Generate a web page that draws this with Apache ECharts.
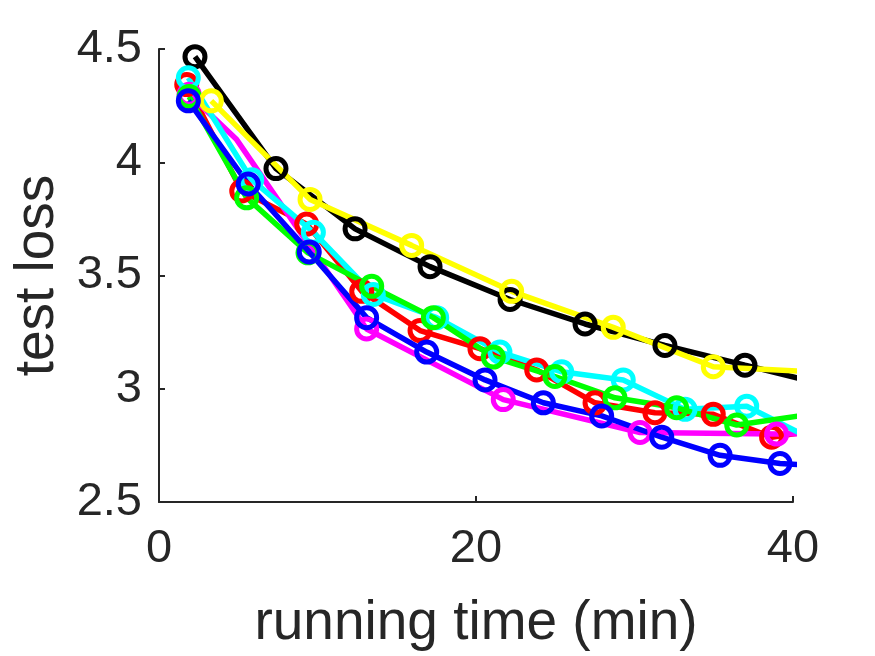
<!DOCTYPE html>
<html>
<head>
<meta charset="utf-8">
<script src="https://cdn.jsdelivr.net/npm/echarts@6/dist/echarts.min.js"></script>
<style>
  html, body { margin: 0; padding: 0; background: #fff; }
  #chart { width: 875px; height: 656px; }
</style>
</head>
<body>
<div id="chart"></div>
<script>
// [running time (min), test loss]; last point of each run lies past 40 and gets clipped
const blackRun   = [[2.27,4.466],[7.38,3.972],[12.37,3.706],[17.1,3.539],[22.15,3.394],[26.88,3.286],[31.92,3.191],[36.97,3.104],[42.0,3.018]];
const redRun     = [[1.75,4.343],[5.22,3.873],[9.32,3.727],[12.79,3.430],[16.47,3.257],[20.25,3.177],[23.83,3.083],[27.51,2.938],[31.29,2.894],[34.97,2.887],[38.65,2.786],[42.4,2.827]];
const magentaRun = [[1.9,4.30],[4.9,4.10],[13.1,3.264],[21.72,2.952],[30.35,2.807],[38.97,2.80],[47.6,2.807]];
const cyanRun    = [[1.85,4.373],[5.85,3.923],[9.74,3.691],[13.52,3.416],[17.52,3.314],[21.51,3.162],[25.41,3.075],[29.29,3.039],[33.19,2.909],[37.08,2.923],[41.0,2.784]];
const greenRun   = [[1.9,4.29],[5.53,3.843],[9.4,3.60],[13.42,3.452],[17.31,3.314],[21.09,3.140],[24.98,3.054],[28.77,2.960],[32.66,2.916],[36.45,2.840],[40.3,2.879]];
const yellowRun  = [[3.3,4.271],[9.53,3.836],[15.94,3.633],[22.25,3.430],[28.66,3.271],[34.97,3.097],[41.3,3.075]];
const blueRun    = [[1.85,4.271],[5.63,3.904],[9.48,3.604],[13.1,3.314],[16.89,3.162],[20.57,3.039],[24.25,2.938],[27.93,2.880],[31.72,2.786],[35.4,2.706],[39.18,2.670],[42.9,2.655]];

// magenta has an unmarked bend near 5 min
const magentaHidden = [1];

const runs = [
  { data: blackRun,   color: '#000000' },
  { data: redRun,     color: '#ff0000' },
  { data: magentaRun, color: '#ff00ff', hidden: magentaHidden },
  { data: cyanRun,    color: '#00ffff' },
  { data: greenRun,   color: '#00ff00' },
  { data: yellowRun,  color: '#ffff00' },
  { data: blueRun,    color: '#0000ff' }
];

const axisColor = '#262626';
const font = 'Liberation Sans, Arial, sans-serif';

const chart = echarts.init(document.getElementById('chart'));

chart.setOption({
  animation: false,
  backgroundColor: '#fff',
  grid: { left: 159, right: 82, top: 49, bottom: 148 },
  xAxis: {
    type: 'value',
    min: 0,
    max: 40,
    interval: 20,
    name: 'running time (min)',
    nameLocation: 'middle',
    nameGap: 94,
    nameTextStyle: { color: axisColor, fontSize: 55, fontFamily: font },
    axisLine: { lineStyle: { color: axisColor, width: 2 } },
    axisTick: { inside: true, length: 6, lineStyle: { color: axisColor, width: 2 } },
    axisLabel: { color: axisColor, fontSize: 47, fontFamily: font, margin: 24 },
    splitLine: { show: false }
  },
  yAxis: {
    type: 'value',
    min: 2.5,
    max: 4.5,
    interval: 0.5,
    name: 'test loss',
    nameLocation: 'middle',
    nameGap: 90,
    nameTextStyle: { color: axisColor, fontSize: 55, fontFamily: font },
    axisLine: { show: true, lineStyle: { color: axisColor, width: 2 } },
    axisTick: { show: true, inside: true, length: 6, lineStyle: { color: axisColor, width: 2 } },
    axisLabel: { color: axisColor, fontSize: 47, fontFamily: font, margin: 17 },
    splitLine: { show: false }
  },
  series: runs.map(r => ({
    type: 'line',
    data: r.data.map((p, i) => (r.hidden && r.hidden.includes(i)) ? { value: p, symbol: 'none' } : p),
    clip: true,
    symbol: 'circle',
    symbolSize: 20,
    lineStyle: { color: r.color, width: 5.5 },
    itemStyle: { color: 'rgba(0,0,0,0)', borderColor: r.color, borderWidth: 5 },
    emphasis: { disabled: true }
  }))
});
</script>
</body>
</html>
